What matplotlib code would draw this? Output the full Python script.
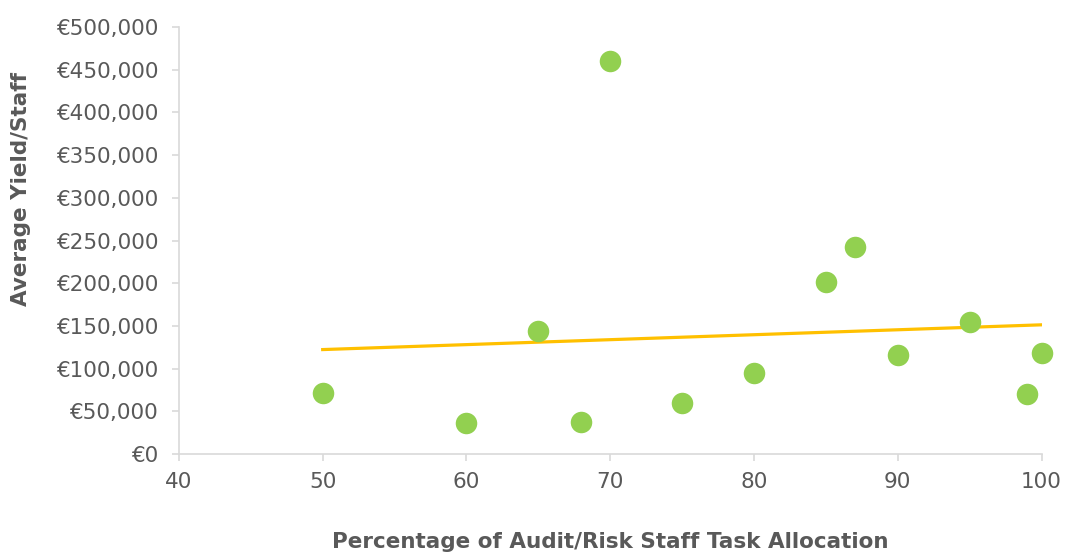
import numpy as np
import matplotlib.pyplot as plt
from matplotlib.ticker import FuncFormatter

# task allocation (%) vs average yield per staff (EUR)
allocation = [50, 60, 65, 68, 70, 75, 80, 85, 87, 90, 95, 99, 100]
avg_yield = [72000, 36000, 144000, 38000, 460000, 60000, 95000,
             201000, 242000, 116000, 155000, 70000, 118000]

grey = "#595959"
axis_grey = "#D9D9D9"

fig = plt.figure(figsize=(10.65, 5.53), dpi=100)
ax = fig.add_axes([0.168, 0.179, 0.810, 0.772])

ax.scatter(allocation, avg_yield, s=240, color="#92D050", zorder=3,
           linewidths=0, clip_on=False)

# linear trendline
coef = np.polyfit(allocation, avg_yield, 1)
xs = np.array([min(allocation), max(allocation)])
ax.plot(xs, np.polyval(coef, xs), color="#FFC000", linewidth=2.3, zorder=2)

ax.set_xlim(40, 100)
ax.set_ylim(0, 500000)
ax.set_xticks(range(40, 101, 10))
ax.set_yticks(range(0, 500001, 50000))
ax.yaxis.set_major_formatter(FuncFormatter(lambda v, p: f"€{v:,.0f}"))

for side in ["top", "right"]:
    ax.spines[side].set_visible(False)
for side in ["left", "bottom"]:
    ax.spines[side].set_color(axis_grey)
    ax.spines[side].set_linewidth(1.2)
ax.tick_params(colors=axis_grey, labelcolor=grey, labelsize=15.5,
               length=5, width=1.2)
ax.tick_params(axis="x", pad=8)
ax.tick_params(axis="y", pad=10)

ax.set_xlabel("Percentage of Audit/Risk Staff Task Allocation",
              fontsize=15.5, fontweight="bold", color=grey, labelpad=29)
ax.set_ylabel("Average Yield/Staff", fontsize=15.5, fontweight="bold",
              color=grey)
ax.yaxis.set_label_coords(-0.172, 0.62)

fig.savefig("out.png", dpi=100)
